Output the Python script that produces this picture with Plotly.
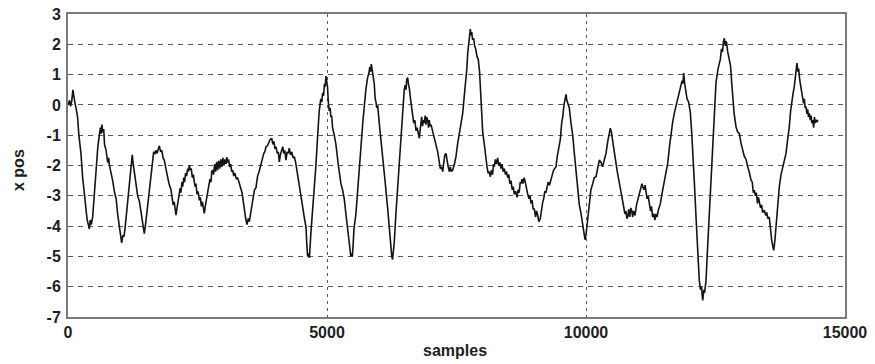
import plotly.graph_objects as go

# ---- data (sample index, x position) ----
samples_a = [0, 30, 50, 70, 95, 115, 130, 155, 185, 210,
             250, 283, 320, 347, 370, 393, 412, 430, 450, 476,
             510, 540, 575, 605, 625, 640, 655, 670, 690, 705,
             735, 766, 785, 800, 830, 862, 900, 930, 958, 1000,
             1020, 1036, 1060, 1080, 1100, 1140, 1183, 1215, 1240, 1255,
             1270, 1290, 1310, 1345, 1380, 1409, 1440, 1473, 1500, 1538,
             1570, 1602, 1630, 1654, 1680, 1700, 1720, 1745, 1763, 1790,
             1810, 1835, 1859]
x_pos_a = [0.0, 0.15, -0.05, 0.1, 0.5, 0.2, 0.1, -0.1, -0.4, -1.0,
           -1.6, -2.4, -3.0, -3.6, -3.8, -3.95, -4.1, -3.8, -3.95, -3.7,
           -2.9, -2.0, -1.4, -1.0, -0.75, -0.95, -0.65, -0.9, -0.8, -1.3,
           -1.5, -1.9, -1.75, -2.0, -2.2, -2.5, -2.9, -3.1, -3.6, -4.1,
           -4.4, -4.55, -4.3, -4.35, -4.1, -3.4, -2.6, -2.2, -1.65, -1.9,
           -2.1, -2.35, -2.5, -3.0, -3.2, -3.5, -3.9, -4.25, -3.9, -3.3,
           -2.8, -2.3, -1.75, -1.55, -1.6, -1.5, -1.6, -1.4, -1.35, -1.55,
           -1.5, -1.75, -1.82]

samples_b = [1890, 1925, 1950, 1988, 2010, 2030, 2050, 2070, 2085, 2105,
             2125, 2149, 2165, 2180, 2200, 2214, 2235, 2250, 2270, 2290,
             2310, 2325, 2342, 2360, 2380, 2400, 2420, 2438, 2455, 2470,
             2490, 2510, 2535, 2555, 2575, 2595, 2615, 2631, 2650, 2670,
             2697]
x_pos_b = [-2.1, -2.48, -2.6, -2.8, -3.0, -3.3, -3.2, -3.5, -3.64, -3.4,
           -3.2, -3.05, -2.75, -2.9, -2.55, -2.7, -2.4, -2.55, -2.25, -2.35,
           -2.1, -2.2, -1.99, -2.15, -2.1, -2.4, -2.3, -2.54, -2.7, -2.6,
           -2.95, -2.85, -3.15, -3.05, -3.35, -3.2, -3.5, -3.58, -3.35, -3.15,
           -2.92]

samples_c = [2720, 2740, 2760, 2775, 2793, 2810, 2830, 2850, 2870, 2890,
             2910, 2930, 2950, 2970, 2990, 3010, 3030, 3050, 3065, 3083,
             3100, 3120, 3140, 3160, 3180, 3200, 3220, 3250, 3275, 3307,
             3330, 3360, 3385, 3404, 3430, 3456, 3480, 3500, 3533]
x_pos_c = [-2.7, -2.45, -2.55, -2.2, -2.15, -2.3, -1.95, -2.2, -1.88, -2.15,
           -1.85, -2.1, -1.8, -2.05, -1.75, -2.0, -1.8, -1.95, -1.72, -1.9,
           -1.8, -2.05, -1.95, -2.2, -2.15, -2.35, -2.25, -2.45, -2.4, -2.6,
           -2.75, -2.9, -3.2, -3.48, -3.75, -3.95, -3.75, -3.85, -3.5]

samples_d = [3570, 3600, 3629, 3660, 3690, 3726, 3750, 3780, 3800, 3822,
             3850, 3880, 3900, 3932, 3955, 3975, 3995, 4015, 4040, 4060,
             4079, 4100, 4120, 4145, 4165, 4185, 4208, 4230, 4250, 4272,
             4295, 4320, 4345, 4369, 4395, 4434, 4480, 4531, 4560, 4595,
             4610, 4626, 4645, 4660, 4690]
x_pos_d = [-3.1, -2.8, -2.73, -2.35, -2.2, -1.93, -1.8, -1.6, -1.55, -1.38,
           -1.35, -1.25, -1.15, -1.1, -1.3, -1.2, -1.45, -1.38, -1.6, -1.55,
           -1.88, -1.65, -1.5, -1.38, -1.6, -1.5, -1.82, -1.55, -1.6, -1.43,
           -1.65, -1.55, -1.75, -1.71, -1.9, -2.37, -2.8, -3.37, -3.7, -4.04,
           -4.6, -5.0, -4.9, -5.05, -4.2]

samples_e = [4740, 4786, 4820, 4850, 4880, 4900, 4915, 4935, 4950, 4965,
             4980, 4995, 5010, 5025, 5043, 5060, 5075, 5090, 5108, 5140,
             5172, 5220, 5269, 5300, 5333, 5365, 5398, 5440, 5460, 5475,
             5490, 5505, 5520, 5558, 5600, 5655, 5690, 5719, 5750, 5784,
             5810, 5825, 5840, 5855, 5870, 5885, 5912, 5930, 5945, 5960,
             5977, 6020, 6073, 6120, 6170, 6200, 6234, 6250, 6266, 6280,
             6300, 6330, 6363, 6395, 6427, 6460, 6491, 6510, 6525, 6540]
x_pos_e = [-3.1, -2.0, -1.0, -0.2, 0.2, 0.1, 0.4, 0.3, 0.7, 0.6,
           0.95, 0.75, 0.6, 0.1, -0.2, -0.1, -0.4, -0.35, -0.75, -1.0,
           -1.3, -2.0, -2.6, -2.8, -3.1, -3.6, -4.1, -4.6, -5.0, -4.9,
           -5.0, -4.6, -4.1, -3.6, -2.5, -1.4, -0.6, 0.05, 0.5, 0.9,
           1.05, 1.25, 1.1, 1.35, 1.15, 1.0, 0.7, 0.2, 0.1, -0.1,
           0.0, -0.8, -1.6, -2.5, -3.4, -4.1, -4.7, -5.0, -5.1, -4.9,
           -4.5, -3.6, -2.8, -1.8, -0.95, -0.1, 0.5, 0.65, 0.5, 0.85]

samples_f = [6557, 6575, 6590, 6605, 6622, 6645, 6674, 6695, 6718, 6740,
             6760, 6782, 6800, 6815, 6828, 6845, 6860, 6878, 6895, 6910,
             6925, 6944, 6960, 6975, 6990, 7008, 7030, 7050, 7071, 7100,
             7137, 7160, 7187, 7210, 7234, 7255, 7275, 7297, 7315, 7335,
             7361, 7380, 7400, 7427, 7460, 7490, 7520, 7554, 7590, 7620,
             7650, 7683, 7700, 7716, 7735, 7750, 7767, 7780, 7795, 7810,
             7832, 7850, 7870, 7896, 7920, 7945, 7970, 7990, 8006, 8037,
             8060, 8089, 8110, 8130, 8153, 8175, 8195, 8215, 8230, 8250,
             8270, 8295, 8315, 8335, 8359, 8380, 8400, 8423, 8445, 8465,
             8489, 8510, 8530, 8552, 8575, 8595, 8616, 8640, 8668, 8690,
             8710, 8730, 8745, 8765, 8785, 8805, 8822, 8845, 8875, 8900,
             8920, 8938, 8960, 8980, 9002, 9025, 9045, 9068, 9090, 9118,
             9145, 9165, 9183, 9205, 9225, 9247, 9270, 9295, 9324, 9350,
             9375, 9400, 9421, 9445, 9470, 9504, 9530, 9550, 9575, 9595,
             9614, 9630, 9650, 9678]
x_pos_f = [0.9, 0.65, 0.55, 0.3, 0.07, -0.3, -0.6, -0.5, -0.85, -0.75,
           -1.0, -1.1, -0.8, -0.45, -0.39, -0.7, -0.5, -0.6, -0.35, -0.65,
           -0.4, -0.5, -0.75, -0.5, -0.7, -0.65, -0.8, -0.95, -1.1, -1.3,
           -1.55, -1.8, -2.1, -2.05, -2.2, -1.9, -1.65, -1.6, -1.85, -2.0,
           -2.2, -2.05, -2.2, -2.15, -1.95, -1.71, -1.3, -0.94, -0.6, -0.27,
           0.3, 0.8, 1.2, 1.7, 2.0, 2.3, 2.5, 2.3, 2.4, 2.15,
           2.2, 1.95, 1.85, 1.6, 1.5, 1.1, 0.3, -0.4, -0.9, -1.3,
           -1.7, -2.04, -2.25, -2.2, -2.37, -2.15, -2.3, -1.95, -2.04, -1.8,
           -1.95, -1.75, -2.0, -1.9, -2.1, -1.95, -2.2, -2.1, -2.3, -2.2,
           -2.4, -2.3, -2.6, -2.5, -2.8, -2.7, -2.95, -2.85, -3.05, -2.8,
           -2.9, -2.55, -2.6, -2.45, -2.6, -2.4, -2.5, -2.75, -2.95, -3.1,
           -3.0, -3.25, -3.15, -3.45, -3.42, -3.7, -3.5, -3.65, -3.85, -3.75,
           -3.4, -3.2, -3.1, -2.85, -2.9, -2.7, -2.55, -2.65, -2.4, -2.3,
           -2.15, -2.1, -2.04, -1.7, -1.45, -1.15, -0.6, -0.4, 0.0, 0.2,
           0.35, 0.15, 0.0, -0.1]

samples_g = [9710, 9743, 9775, 9807, 9840, 9871, 9905, 9936, 9960, 9981,
             10000, 10020, 10040, 10064, 10095, 10129, 10160, 10193, 10225, 10257,
             10290, 10322, 10355, 10386, 10420, 10445, 10469, 10490, 10510, 10535,
             10565, 10599, 10630, 10663, 10695, 10728, 10750, 10770, 10790, 10805,
             10825, 10845, 10865, 10882, 10900, 10920, 10946, 10975, 11010, 11035,
             11060, 11080, 11095, 11120, 11140, 11158, 11180, 11200, 11222, 11245,
             11265, 11285, 11307, 11330, 11350, 11371, 11400, 11435, 11470, 11512,
             11545, 11577, 11610, 11641, 11670, 11705, 11740, 11770, 11800, 11830,
             11855, 11870, 11886, 11905, 11925, 11950, 11980]
x_pos_g = [-0.6, -1.0, -1.6, -2.2, -2.8, -3.3, -3.6, -3.9, -4.2, -4.45,
           -4.3, -4.0, -3.7, -3.15, -2.8, -2.6, -2.4, -2.37, -2.1, -1.82,
           -1.9, -2.04, -1.8, -1.6, -1.2, -0.95, -0.77, -0.9, -1.15, -1.38,
           -1.8, -2.15, -2.45, -2.7, -3.05, -3.37, -3.6, -3.5, -3.75, -3.7,
           -3.45, -3.7, -3.4, -3.48, -3.7, -3.5, -3.65, -3.3, -3.04, -2.85,
           -2.75, -2.6, -2.7, -2.8, -2.65, -2.92, -3.1, -3.0, -3.26, -3.5,
           -3.35, -3.7, -3.59, -3.8, -3.6, -3.7, -3.45, -3.26, -2.9, -2.48,
           -2.2, -1.93, -1.4, -0.94, -0.6, -0.27, 0.0, 0.17, 0.45, 0.65,
           0.8, 0.7, 1.05, 0.7, 0.5, 0.2, 0.1]

samples_h = [12014, 12040, 12060, 12090, 12124, 12155, 12187, 12210, 12230, 12253,
             12275, 12290, 12317, 12345, 12380, 12410, 12446, 12480, 12510, 12550,
             12593, 12615, 12635, 12655, 12670, 12690, 12710, 12736, 12766, 12790,
             12810, 12832, 12860, 12896, 12930, 12960, 12992, 13056, 13090, 13121,
             13150, 13185, 13210, 13230, 13249, 13270, 13290, 13310, 13330, 13346,
             13370, 13390, 13410, 13442, 13470, 13490, 13510, 13538, 13560, 13585,
             13605, 13624, 13645, 13668, 13700, 13732, 13765, 13797, 13830, 13861,
             13895, 13925, 13950, 13971, 13995, 14021, 14045, 14073, 14090, 14105,
             14125, 14145, 14165, 14183, 14200, 14215, 14230, 14247, 14265, 14280,
             14295, 14311, 14330, 14345, 14360, 14376, 14395, 14410, 14425, 14441,
             14460, 14480]
x_pos_h = [-0.25, -0.9, -1.45, -2.5, -3.7, -4.8, -5.8, -6.1, -6.0, -6.45,
           -6.1, -6.2, -5.8, -4.8, -3.7, -2.6, -1.45, -0.3, 0.75, 1.2,
           1.5, 1.85, 1.75, 2.1, 2.2, 1.95, 2.1, 1.75, 1.49, 1.3,
           0.8, 0.2, -0.3, -0.72, -0.9, -0.94, -1.26, -1.7, -1.8, -2.04,
           -2.2, -2.48, -2.55, -2.9, -2.81, -3.0, -2.9, -3.25, -3.05, -3.2,
           -3.4, -3.3, -3.55, -3.48, -3.65, -3.55, -3.75, -3.7, -4.1, -4.47,
           -4.65, -4.8, -4.5, -4.0, -3.3, -2.7, -2.3, -2.04, -1.85, -1.6,
           -1.1, -0.72, -0.2, 0.17, 0.35, 0.61, 0.9, 1.38, 1.1, 1.2,
           0.83, 0.6, 0.45, 0.28, 0.05, 0.2, -0.1, -0.06, -0.3, -0.15,
           -0.4, -0.28, -0.5, -0.35, -0.6, -0.5, -0.75, -0.4, -0.6, -0.5,
           -0.55, -0.5]

x_ticks = [0, 5000, 10000, 15000]
y_ticks = [-7, -6, -5, -4, -3, -2, -1, 0, 1, 2, 3]
x_title = "samples"
y_title = "x pos"

samples = samples_a + samples_b + samples_c + samples_d + samples_e + samples_f + samples_g + samples_h
x_pos = x_pos_a + x_pos_b + x_pos_c + x_pos_d + x_pos_e + x_pos_f + x_pos_g + x_pos_h

fig = go.Figure()
fig.add_trace(go.Scatter(x=samples, y=x_pos, mode="lines", hoverinfo="skip",
                         line=dict(color="#141414", width=1.6), showlegend=False))

font = dict(family="Liberation Sans, Arial, sans-serif", size=16, color="#1e1e1e")
fig.update_layout(
    width=875, height=364,
    margin=dict(l=68, r=30, t=14, b=47, autoexpand=False),
    paper_bgcolor="white", plot_bgcolor="white",
    font=font,
    xaxis=dict(range=[0, 15000], tickvals=x_ticks, ticktext=[f"<b>{t}</b>" for t in x_ticks],
               showgrid=True, gridcolor="#5a5a5a", gridwidth=1.3, griddash="3px,4px",
               showline=True, linecolor="#7a7a7a", linewidth=2, mirror=True,
               ticks="", zeroline=False, automargin=False, ticklabelstandoff=0,
               ticklabeloverflow="allow"),
    yaxis=dict(range=[-7, 3], tickvals=y_ticks, ticktext=[f"<b>{t}</b>" for t in y_ticks],
               showgrid=True, gridcolor="#5a5a5a", gridwidth=1.3, griddash="5px,5px",
               showline=True, linecolor="#7a7a7a", linewidth=2, mirror=True,
               ticks="", zeroline=False, automargin=False, ticklabelstandoff=2,
               ticklabeloverflow="allow"),
    annotations=[
        dict(text=f"<b>{x_title}</b>", xref="paper", yref="paper", x=0.498, y=-0.109,
             xanchor="center", yanchor="middle", showarrow=False, font=dict(size=16)),
        dict(text=f"<b>{y_title}</b>", xref="paper", yref="paper", x=-0.0644, y=0.485,
             xanchor="center", yanchor="middle", textangle=-90, showarrow=False, font=dict(size=16)),
    ],
)
fig.write_html("out.html", config={"displayModeBar": False},
               post_script="document.body.style.margin='0px';")
